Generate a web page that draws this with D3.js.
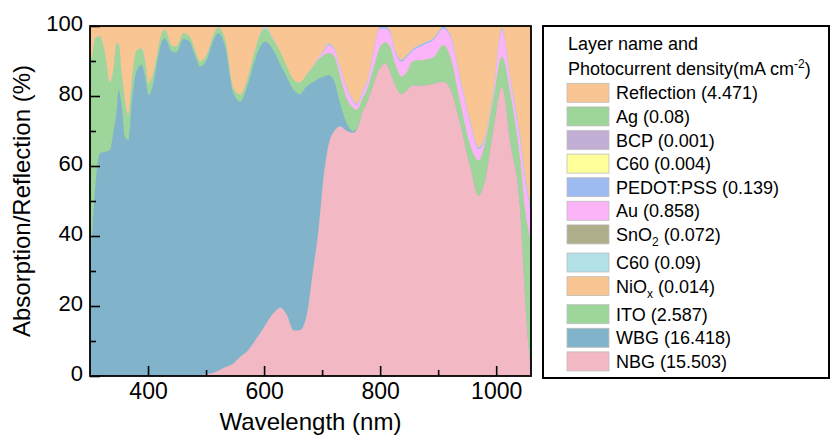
<!DOCTYPE html>
<html>
<head>
<meta charset="utf-8">
<script src="https://cdn.jsdelivr.net/npm/d3@7"></script>
<style>
body { margin: 0; background: #fff; }
text { font-family: "Liberation Sans", Arial, sans-serif; fill: #000; }
</style>
</head>
<body>
<svg id="chart" width="831" height="445"></svg>
<script>
// wavelength grid (nm)
var wavelength = [300,303,309,317,326,334,340,346,349,355,
	360,366,372,380,389,395,401,409,415,421,
	429,441,449,461,472,480,490,501,513,521,
	533,547,559,570,582,593,602,616,628,639,
	651,662,673,685,694,702,711,720,731,743,
	754,760,771,777,788,794,800,809,817,826,
	837,845,857,875,892,909,921,938,955,970,
	981,995,1010,1024,1041,1050,1056,1060];

// absorption of each layer (%)
var nbg = [0,0,0,0,0,0,0,0,0,0,
	0,0,0,0,0,0,0,0,0,0,
	0,0,0,0,0,0,0.2,0.5,0.9,1.5,
	2.5,3.6,5.5,6.9,9.5,12.2,14.5,17.9,19.5,17.5,
	13,13.1,17,31,42,56,66,69.8,71.3,70,
	69.5,70.5,76,78,83,86,88,89.3,87,83,
	80.5,81.5,83,83,83.5,84.1,82,72,60,51.5,
	56,70.3,82.5,67,48,22,8,2];
var wbg = [35,40,54,63.6,64.1,64.6,69.3,76,81.7,76.9,
	68.4,67.4,77.9,87,89,85.5,80.3,83.6,89,94,
	96.5,92.7,92.5,96.3,95.5,92,88.2,89.8,95.1,96.4,
	91.6,77.2,72.9,75.3,79.5,81.9,81,75.2,69.5,68,
	68.7,67.4,65.7,53,43,29.5,20,14.8,6.7,2,
	0.5,0.3,0,0,0,0,0,0,0,0,
	0,0,0,0,0,0,0,0,0,0,
	0,0,0,0,0,0,0,0];
var ito = [56,51,42.5,33.4,27.9,19.4,17.7,19,13.3,9.1,
	10.6,7.1,6.1,6,4.6,4.5,3.3,2.9,2,2.5,
	2.4,1.6,1.6,1.6,1.5,1.5,1.4,1.4,1.4,1.7,
	1.9,1.4,1.9,1.9,2.5,3.3,3.8,2.9,3.5,2.9,
	2.9,3.3,3.3,4.5,5.5,6,6.2,6.9,7.5,6.9,
	6.5,5.2,3.8,3.5,4.5,5,6,6,7,6,
	5,5,7,7.3,7.5,10.5,9.2,6,6,10,
	10.5,8.6,8.7,13.8,14,25,33,36];
var niox = [0,0,0,0,0,0,0,0,0,0,
	0,0,0,0,0,0,0,0,0,0,
	0,0,0,0,0,0,0,0,0,0,
	0,0,0,0,0,0,0,0,0,0,
	0,0,0,0,0,0,0,0,0,0,
	0,0,0,0,0,0,0,0,0,0,
	0,0,0,0,0,0,0,0,0,0,
	0,0,0,0,0,0,0,0];
var c60b = [0,0,0,0,0,0,0,0,0,0,
	0,0,0,0,0,0,0,0,0,0,
	0,0,0,0,0,0,0,0,0,0,
	0,0,0,0,0,0.3,0.4,0.3,0,0,
	0,0,0,0,0,0,0,0,0,0,
	0,0,0,0,0,0,0,0,0,0,
	0,0,0,0,0,0,0,0,0,0,
	0,0,0,0,0,0,0,0];
var sno2 = [0,0,0,0,0,0,0,0,0,0,
	0,0,0,0,0,0,0,0,0,0,
	0,0,0,0,0,0,0,0,0,0,
	0,0,0,0,0,0,0,0,0,0,
	0,0,0,0,0,0,0,0,0,0,
	0,0,0,0,0,0,0,0,0,0,
	0,0,0,0,0,0,0,0,0,0,
	0,0,0,0,0,0,0,0];
var au = [0,0,0,0,0,0,0,0,0,0,
	0,0,0,0,0,0,0,0,0,0,
	0,0,0,0,0,0,0,0,0,0,
	0,0,0,0,0,0,0,0,0,0,
	0,0,0,0.3,0.6,1,2.4,2,2.5,3.1,
	1.9,1.4,1.9,2,4.5,6,5.3,3.9,4,3.5,
	4.3,4.5,3,4.3,5,4.7,5.8,6.6,6.5,3.3,
	1.5,1.9,7.7,4.2,6,9,9,8];
var pedot = [0,0,0,0,0,0,0,0,0,0,
	0,0,0,0,0,0,0,0,0,0,
	0,0,0,0,0,0,0,0,0,0,
	0,0,0,0,0,0,0,0,0,0,
	0,0,0,0,0,0.3,0.3,0.3,0.3,0.3,
	0.3,0.3,0.3,0.3,0.3,0.3,0.5,0.5,0.5,0.5,
	0.5,0.5,0.5,0.5,0.5,0.5,0.5,0.5,0.5,0.5,
	0.5,0.5,0.5,0.5,1,1,1,1];
var c60a = [0,0,0,0,0,0,0,0,0,0,
	0,0,0,0,0,0,0,0,0,0,
	0,0,0,0,0,0,0,0,0,0,
	0,0,0,0,0,0,0,0,0,0,
	0,0,0,0,0,0,0,0,0,0,
	0,0,0,0,0,0,0,0,0,0,
	0,0,0,0,0,0,0,0,0,0,
	0,0,0,0,0,0,0,0];
var bcp = [0,0,0,0,0,0,0,0,0,0,
	0,0,0,0,0,0,0,0,0,0,
	0,0,0,0,0,0,0,0,0,0,
	0,0,0,0,0,0,0,0,0,0,
	0,0,0,0,0,0,0,0,0,0,
	0,0,0,0,0,0,0,0,0,0,
	0,0,0,0,0,0,0,0,0,0,
	0,0,0,0,0,0,0,0];
var ag = [0,0,0,0,0,0,0,0,0,0,
	0,0,0,0,0,0,0,0,0,0,
	0,0,0,0,0,0,0,0,0,0,
	0,0,0,0,0,0,0,0,0,0,
	0,0,0,0,0,0,0,0,0,0,
	0,0,0,0,0,0,0,0,0,0,
	0,0,0,0,0,0,0,0,0,0,
	0,0,0,0,0,0,0,0];
var reflection = [9,9,3.5,3,8,16,13,5,5,14,
	21,25.5,16,7,6.4,10,16.4,13.5,9,3.5,
	1.1,5.7,5.9,2.1,3,6.5,10.2,8.3,2.6,0.4,
	4,17.8,19.7,15.9,8.5,2.3,0.3,3.7,7.5,11.6,
	15.4,16.2,14,11.2,8.9,7.2,5.1,6.2,11.7,17.7,
	21.3,22.3,18,16.2,7.7,2.7,0.2,0.3,1.5,7,
	9.7,8.5,6.5,4.9,3.5,0.2,2.5,14.9,27,34.7,
	31.5,18.7,0.6,14.5,31,43,49,53];

// legend order (top to bottom)
var layerKeys = ["reflection","ag","bcp","c60a","pedot","au","sno2","c60b","niox","ito","wbg","nbg"];
var layerNames = ["Reflection","Ag","BCP","C60","PEDOT:PSS","Au","SnO","C60","NiO","ITO","WBG","NBG"];
var layerSubs = ["","","","","","","2","","x","","",""];
var currents = ["4.471","0.08","0.001","0.004","0.139","0.858","0.072","0.09","0.014","2.587","16.418","15.503"];
var colors = ["#f9c593","#9dd59b","#c1afd6","#ffff99","#9dbbf0","#fcb4f8","#aeae8a","#b2e2e8","#f9c593","#9dd59b","#81b4cb","#f2b8c3"];

var xTicks = [400,600,800,1000],
		xMinor = [500,700,900],
		yTicks = [0,20,40,60,80,100],
		yMinor = [10,30,50,70,90];

function drawChart() {
	var series = {
		reflection: reflection, ag: ag, bcp: bcp, c60a: c60a, pedot: pedot, au: au,
		sno2: sno2, c60b: c60b, niox: niox, ito: ito, wbg: wbg, nbg: nbg
	};

	var rows = wavelength.map(function(w, i) {
		var r = {w: w};
		layerKeys.forEach(function(k) { r[k] = series[k][i]; });
		return r;
	});

	var svg = d3.select("#chart");
	var plotLeft = 90, plotTop = 26, plotRight = 531, plotBottom = 376;

	var x = d3.scaleLinear().domain([300, 1060]).range([plotLeft, plotRight]),
			y = d3.scaleLinear().domain([0, 100]).range([plotBottom, plotTop]);

	var stackKeys = layerKeys.slice().reverse();
	var stacked = d3.stack().keys(stackKeys)(rows);

	svg.append("defs").append("clipPath")
			.attr("id", "clip")
		.append("rect")
			.attr("x", plotLeft)
			.attr("y", plotTop)
			.attr("width", plotRight - plotLeft)
			.attr("height", plotBottom - plotTop);

	var area = d3.area()
			.curve(d3.curveMonotoneX)
			.x(function(d) { return x(d.data.w); })
			.y0(y(0))
			.y1(function(d) { return y(d[1]); });

	// paint from the top layer down, each filled from zero, so no seams
	var plot = svg.append("g").attr("clip-path", "url(#clip)");
	stacked.slice().reverse().forEach(function(s) {
		var idx = layerKeys.indexOf(s.key);
		plot.append("path")
				.datum(s)
				.attr("fill", colors[idx])
				.attr("d", area);
	});

	// axes with inward ticks
	var xAxis = svg.append("g")
			.attr("transform", "translate(0," + plotBottom + ")")
			.call(d3.axisBottom(x).tickValues(xTicks).tickSize(-10).tickPadding(7).tickFormat(d3.format("d")));
	svg.append("g")
			.attr("transform", "translate(0," + plotBottom + ")")
			.call(d3.axisBottom(x).tickValues(xMinor).tickSize(-6).tickFormat(""));
	var yAxis = svg.append("g")
			.attr("transform", "translate(" + plotLeft + ",0)")
			.call(d3.axisLeft(y).tickValues(yTicks).tickSize(-10).tickPadding(7));
	svg.append("g")
			.attr("transform", "translate(" + plotLeft + ",0)")
			.call(d3.axisLeft(y).tickValues(yMinor).tickSize(-6).tickFormat(""));

	svg.selectAll(".domain").remove();
	svg.selectAll(".tick line").attr("stroke", "#000").attr("stroke-width", 1.6);
	xAxis.selectAll("text").style("font-size", "23px").attr("fill", "#000")
			.style("font-family", "'Liberation Sans', Arial, sans-serif");
	yAxis.selectAll("text").style("font-size", "22px").attr("fill", "#000").attr("dy", "0.22em")
			.style("font-family", "'Liberation Sans', Arial, sans-serif");

	svg.append("rect")
			.attr("x", plotLeft)
			.attr("y", plotTop)
			.attr("width", plotRight - plotLeft)
			.attr("height", plotBottom - plotTop)
			.attr("fill", "none")
			.attr("stroke", "#000")
			.attr("stroke-width", 1.8);

	svg.append("text")
			.attr("x", (plotLeft + plotRight) / 2)
			.attr("y", 430)
			.attr("text-anchor", "middle")
			.style("font-size", "24px")
			.text("Wavelength (nm)");

	svg.append("text")
			.attr("transform", "translate(30," + (plotTop + plotBottom) / 2 + ") rotate(-90)")
			.attr("text-anchor", "middle")
			.style("font-size", "24px")
			.text("Absorption/Reflection (%)");

	// legend
	var legend = svg.append("g");
	legend.append("rect")
			.attr("x", 543)
			.attr("y", 26)
			.attr("width", 286)
			.attr("height", 352)
			.attr("fill", "#fff")
			.attr("stroke", "#000")
			.attr("stroke-width", 2);

	legend.append("text")
			.attr("x", 568)
			.attr("y", 50)
			.style("font-size", "18px")
			.text("Layer name and");

	var head = legend.append("text")
			.attr("x", 568)
			.attr("y", 75)
			.style("font-size", "18px");
	head.append("tspan").text("Photocurrent density(mA cm");
	head.append("tspan").attr("dy", -7).style("font-size", "12px").text("-2");
	head.append("tspan").attr("dy", 7).text(")");

	var rowY = 92.8, extra = 0;
	layerKeys.forEach(function(k, i) {
		var cy = rowY + i * 23.6 + extra;
		legend.append("rect")
				.attr("x", 567)
				.attr("y", cy - 9.5)
				.attr("width", 42)
				.attr("height", 19)
				.attr("fill", colors[i])
				.attr("stroke", "#bdbdbd")
				.attr("stroke-width", 0.8);
		var t = legend.append("text")
				.attr("x", 616)
				.attr("y", cy + 6.5)
				.style("font-size", "18px");
		t.append("tspan").text(layerNames[i]);
		if(layerSubs[i]) {
			t.append("tspan").attr("dy", 5).style("font-size", "12px").text(layerSubs[i]);
			t.append("tspan").attr("dy", -5).text(" (" + currents[i] + ")");
			extra += 4.5;
		} else {
			t.append("tspan").text(" (" + currents[i] + ")");
		}
	});
}

drawChart();
</script>
</body>
</html>
